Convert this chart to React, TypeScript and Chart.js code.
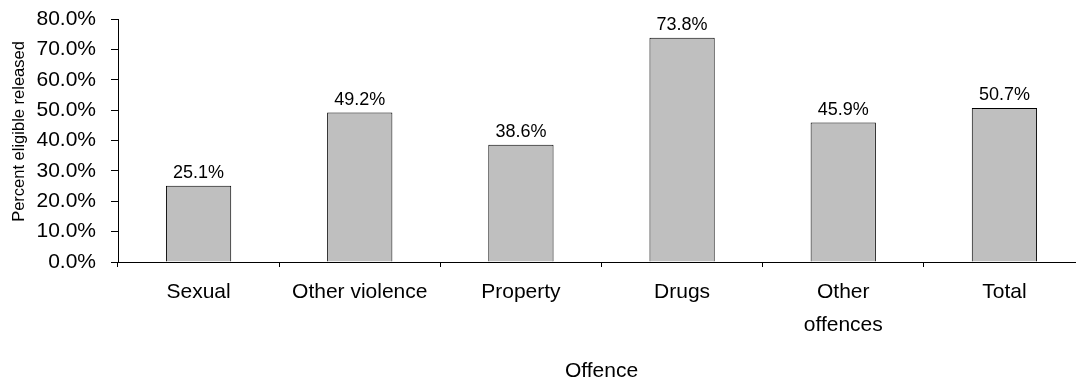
import React, { useEffect, useRef } from "react";
import { Chart, registerables } from "chart.js";

Chart.register(...registerables);

const categories: (string | string[])[] = [
  "Sexual",
  "Other violence",
  "Property",
  "Drugs",
  ["Other", "offences"],
  "Total",
];
const releasedPct: number[] = [25.1, 49.2, 38.6, 73.8, 45.9, 50.7];
const yTitle = "Percent eligible released";
const xTitle = "Offence";

const FONT = "'Liberation Sans', Arial, sans-serif";

const valueLabels = {
  id: "valueLabels",
  afterDatasetsDraw(chart: any) {
    const ctx = chart.ctx;
    const meta = chart.getDatasetMeta(0);
    ctx.save();
    ctx.font = `18px ${FONT}`;
    ctx.fillStyle = "#000";
    ctx.textAlign = "center";
    ctx.textBaseline = "alphabetic";
    meta.data.forEach((el: any, i: number) => {
      const v = chart.data.datasets[0].data[i] as number;
      ctx.fillText(v.toFixed(1) + "%", el.x, el.y - 7.5);
    });
    ctx.restore();
  },
};

// y-axis title, centred a little above the plot's middle as in the reference
const yTitlePlugin = {
  id: "yTitlePlugin",
  afterDraw(chart: any) {
    const ctx = chart.ctx;
    const area = chart.chartArea;
    ctx.save();
    ctx.font = `16.5px ${FONT}`;
    ctx.fillStyle = "#000";
    ctx.textAlign = "center";
    ctx.textBaseline = "middle";
    ctx.translate(19, (area.top + area.bottom) / 2 - 9);
    ctx.rotate(-Math.PI / 2);
    ctx.fillText(yTitle, 0, 0);
    ctx.restore();
  },
};

export default function App() {
  const ref = useRef<HTMLCanvasElement>(null);
  useEffect(() => {
    if (!ref.current) return;
    const chart = new Chart(ref.current, {
      type: "bar",
      data: {
        labels: categories,
        datasets: [
          {
            data: releasedPct,
            backgroundColor: "#BFBFBF",
            borderColor: "#000",
            borderWidth: 1,
            barPercentage: 0.405,
            categoryPercentage: 1,
          },
        ],
      },
      options: {
        responsive: false,
        animation: false,
        devicePixelRatio: 1,
        layout: { padding: { left: 9, top: 19, right: 5, bottom: 0 } },
        plugins: {
          legend: { display: false },
          tooltip: { enabled: false },
        },
        scales: {
          x: {
            afterFit: (s: any) => {
              s.height = 120;
              s.paddingLeft = 0;
              s.paddingRight = 0;
            },
            grid: {
              display: true,
              drawOnChartArea: false,
              drawTicks: true,
              tickLength: 5,
              color: "#000",
              offset: true,
            },
            border: { display: true, color: "#000", width: 1 },
            ticks: {
              color: "#000",
              font: { family: FONT, size: 21, lineHeight: 1.6 },
              padding: 8,
              maxRotation: 0,
              autoSkip: false,
            },
            title: {
              display: true,
              text: xTitle,
              color: "#000",
              font: { family: FONT, size: 21, lineHeight: 1.0 },
              padding: { top: 0, bottom: 0 },
            },
          },
          y: {
            min: 0,
            max: 80,
            afterFit: (s: any) => {
              s.width = 109;
              s.paddingTop = 0;
              s.paddingBottom = 0;
            },
            grid: {
              display: true,
              drawOnChartArea: false,
              drawTicks: true,
              tickLength: 7,
              color: "#000",
            },
            border: { display: true, color: "#000", width: 1 },
            ticks: {
              stepSize: 10,
              color: "#000",
              font: { family: FONT, size: 21 },
              padding: 15,
              callback: (v: any) => Number(v).toFixed(1) + "%",
            },
            title: { display: false },
          },
        },
      },
      plugins: [valueLabels, yTitlePlugin],
    });
    return () => chart.destroy();
  }, []);
  return (
    <div
      style={{
        position: "fixed",
        left: 0,
        top: 0,
        width: 1076,
        height: 382,
        overflow: "hidden",
        background: "#fff",
      }}
    >
      <canvas
        ref={ref}
        width={1090}
        height={382}
        style={{ position: "absolute", left: 0, top: 0, width: 1090, height: 382 }}
      />
    </div>
  );
}
